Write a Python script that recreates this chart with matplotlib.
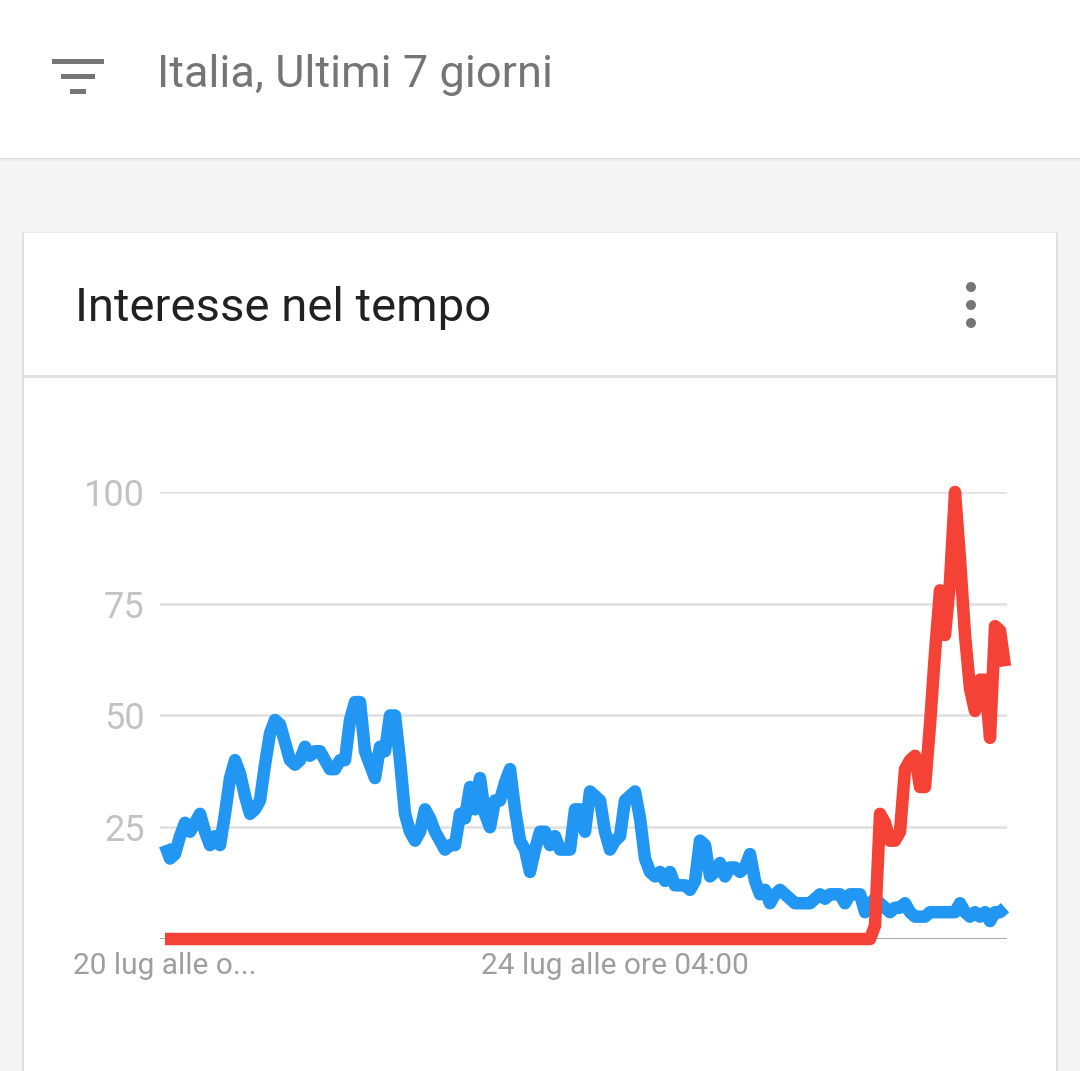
import matplotlib
matplotlib.use("Agg")
from matplotlib import pyplot as plt
from matplotlib.patches import Rectangle, Circle

plt.rcParams['font.family'] = ['Roboto', 'DejaVu Sans']

# valori (dati orari, 169 punti)
blu = [21, 18, 19, 23, 26, 24, 26, 28, 24, 21, 23, 21, 28, 36, 40, 37, 32, 28, 29, 31,
       39, 46, 49, 48, 44, 40, 39, 40, 43, 41, 42, 42, 40, 38, 38, 40, 40, 49, 53, 53,
       42, 39, 36, 43, 42, 50, 50, 40, 28, 24, 22, 24, 29, 27, 24, 22, 20, 21, 21, 28,
       27, 34, 29, 36, 28, 25, 31, 31, 35, 38, 29, 22, 20, 15, 20, 24, 24, 21, 23, 20,
       20, 20, 29, 29, 24, 33, 32, 31, 24, 20, 22, 23, 31, 32, 33, 27, 18, 15, 14, 15,
       13, 15, 12, 12, 12, 11, 13, 22, 21, 14, 15, 17, 14, 16, 16, 15, 16, 19, 13, 10,
       11, 8, 10, 11, 10, 9, 8, 8, 8, 8, 9, 10, 9, 10, 10, 10, 8, 10, 10, 10,
       6, 8, 9, 8, 7, 6, 7, 7, 8, 6, 5, 5, 5, 6, 6, 6, 6, 6, 6, 8,
       6, 5, 6, 5, 6, 4, 6, 6, 7]
rosso = [0] * 140 + [0, 0, 3, 28, 26, 22, 22, 24, 38, 40, 41, 34, 34, 48, 64, 78, 68, 80,
                     100, 85, 68, 56, 51, 58, 58, 45, 70, 69, 61]
ytick = [25, 50, 75, 100]
xtick = [0, 90]
xlab = ["20 lug alle o...", "24 lug alle ore 04:00"]

W, H = 1080, 1071
fig = plt.figure(figsize=(W / 100, H / 100), dpi=100)
fig.patch.set_facecolor('#f5f5f5')

# sfondo della pagina
bg = fig.add_axes([0, 0, 1, 1])
bg.set_xlim(0, W)
bg.set_ylim(H, 0)
bg.axis('off')
for i, a in enumerate([0.14, 0.09, 0.05, 0.03, 0.015]):
    bg.add_patch(Rectangle((0, 157 + i), W, 1.2, color='k', alpha=a, lw=0))
bg.add_patch(Rectangle((0, 0), W, 158, color='white', lw=0))
for i, a in enumerate([0.05, 0.03, 0.015]):
    bg.add_patch(Rectangle((24 - i - 1, 233 - i), 1032 + 2 * i + 2, 840, color='k', alpha=a, lw=0))
bg.add_patch(Rectangle((24, 233), 1032, 840, color='white', lw=0))
bg.add_patch(Rectangle((24, 375), 1032, 3, color='#e3e3e3', lw=0))

# icona filtro
bg.add_patch(Rectangle((52, 59), 52, 5, color='#757575', lw=0))
bg.add_patch(Rectangle((61, 74), 34, 5, color='#757575', lw=0))
bg.add_patch(Rectangle((70, 89), 16, 5, color='#757575', lw=0))
bg.text(157, 75, "Italia, Ultimi 7 giorni", fontsize=32.5, color='#757575', va='center', ha='left')
bg.text(75, 308, "Interesse nel tempo", fontsize=34, color='#212121', va='center', ha='left')
for cy in [287, 305, 323]:
    bg.add_patch(Circle((971, cy), 5, color='#757575', lw=0))

# grafico
ax = fig.add_axes([160 / W, (H - 939) / H, 847 / W, 447 / H])
ax.set_facecolor('none')
ax.set_xlim(-1, 168.4)
ax.set_ylim(0, 100)
for s in ax.spines.values():
    s.set_visible(False)
ax.set_yticks(ytick)
ax.set_yticklabels([str(v) for v in ytick])
ax.grid(axis='y', color='#e0e0e0', lw=1.8)
ax.axhline(0, color='#9e9e9e', lw=2, zorder=1)
ax.tick_params(axis='y', length=0, pad=11, labelsize=26, labelcolor='#c2c2c2')
ax.set_xticks(xtick)
ax.set_xticklabels(xlab)
ax.tick_params(axis='x', length=0, pad=9, labelsize=21.5, labelcolor='#9e9e9e')

x = list(range(len(blu)))
ax.plot(x, blu, color='#2196f3', lw=9, solid_joinstyle='round', solid_capstyle='butt',
        clip_on=False, zorder=3)
ax.plot(x, rosso, color='#f44336', lw=9, solid_joinstyle='round', solid_capstyle='butt',
        clip_on=False, zorder=4)

plt.savefig("out.png", dpi=100, facecolor=fig.get_facecolor())
